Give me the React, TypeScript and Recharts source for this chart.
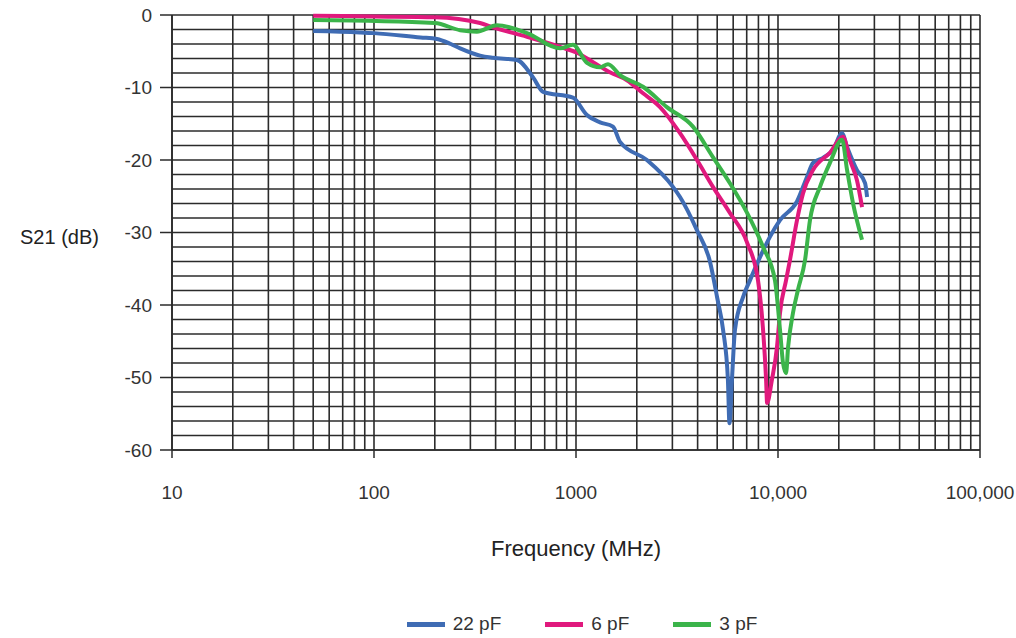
import { LineChart, Line, XAxis, YAxis, CartesianGrid, Legend } from 'recharts'

// log grid: every 1..9 x decade
const xTicks = [
  10, 20, 30, 40, 50, 60, 70, 80, 90,
  100, 200, 300, 400, 500, 600, 700, 800, 900,
  1000, 2000, 3000, 4000, 5000, 6000, 7000, 8000, 9000,
  10000, 20000, 30000, 40000, 50000, 60000, 70000, 80000, 90000,
  100000,
]
const xLabels = [10, 100, 1000, 10000, 100000]

const yTicks = [
  0, -2, -4, -6, -8, -10, -12, -14, -16, -18, -20, -22, -24, -26, -28, -30,
  -32, -34, -36, -38, -40, -42, -44, -46, -48, -50, -52, -54, -56, -58, -60,
]
const yLabels = [0, -10, -20, -30, -40, -50, -60]

// 22 pF
const freq22 = [50, 85, 100, 170, 205, 240, 267, 335, 388, 510, 613, 687, 966, 1133, 1315, 1524, 1652, 2244, 3020, 3273, 3972, 4603, 5000, 5346, 5649, 5750, 5916, 6124, 6714, 7262, 8147, 9120, 10230, 12420, 13930, 14900, 16710, 18710, 20750, 21980, 24600, 26980, 27610]
const s21_22 = [-2.2, -2.4, -2.5, -3.1, -3.3, -4.0, -4.6, -5.6, -5.9, -6.2, -8.6, -10.6, -11.4, -13.8, -14.8, -15.4, -17.5, -20.0, -23.7, -25.1, -29.7, -34.0, -39.0, -43.4, -50.3, -56.3, -50.3, -43.4, -38.9, -36.6, -33.4, -30.6, -28.3, -25.7, -22.3, -20.4, -19.7, -18.6, -16.3, -18.2, -21.4, -23.2, -25.1]

// 6 pF
const freq6 = [50, 100, 200, 335, 388, 572, 834, 1012, 1214, 1472, 1787, 2147, 2606, 3273, 3972, 4764, 5781, 7031, 7962, 8433, 8730, 8831, 9333, 9886, 10230, 10960, 11460, 12420, 13300, 14900, 18070, 20990, 22700, 24600, 26060]
const s21_6 = [-0.1, -0.2, -0.3, -1.1, -1.7, -3.0, -4.4, -5.2, -6.5, -7.9, -9.0, -10.8, -12.7, -16.3, -20.0, -23.7, -27.3, -31.4, -36.6, -43.4, -50.3, -53.5, -50.3, -45.8, -41.1, -36.6, -33.8, -28.3, -24.6, -21.4, -19.0, -16.8, -20.0, -22.8, -26.5]

// 3 pF
const freq3 = [50, 200, 267, 323, 406, 572, 834, 966, 1133, 1315, 1440, 1652, 2147, 2818, 3793, 4764, 5781, 7031, 8433, 9660, 10230, 10590, 10960, 11220, 11860, 12560, 13610, 14400, 16140, 18070, 20750, 21980, 23500, 26060]
const s21_3 = [-0.7, -1.1, -2.1, -2.3, -1.4, -2.5, -4.6, -4.1, -6.6, -7.2, -6.8, -8.3, -9.9, -12.7, -15.4, -19.6, -23.2, -27.3, -32.0, -36.6, -43.4, -48.0, -49.4, -45.8, -41.1, -37.9, -33.8, -28.3, -23.7, -20.4, -17.2, -21.4, -25.9, -31.0]

const zip = (f: number[], v: number[]) => f.map((x, i) => ({ f: x, db: v[i] }))

const series = [
  { name: '22 pF', color: '#3f6cb4', data: zip(freq22, s21_22) },
  { name: '6 pF', color: '#e0197d', data: zip(freq6, s21_6) },
  { name: '3 pF', color: '#3bb44a', data: zip(freq3, s21_3) },
]

const FONT = '"Liberation Sans", Arial, sans-serif'
const GRID = '#2b2b2b'
const Y_TICK_SIZE = 12
const Y_TICK_MARGIN = 8
const X_TICK_SIZE = 8
const X_TICK_MARGIN = 27

const fmtFreq = (v: number) => (v >= 10000 ? v.toLocaleString('en-US') : String(v))

function XTick(props: any) {
  const { x, y, payload } = props
  if (!xLabels.includes(payload.value)) return null
  return (
    <g>
      <line x1={x} x2={x} y1={y - X_TICK_MARGIN - X_TICK_SIZE} y2={y - X_TICK_MARGIN} stroke={GRID} strokeWidth={1.5} />
      <text x={x} y={y} dy="0.72em" textAnchor="middle" fontSize={19} fill="#333" fontFamily={FONT}>
        {fmtFreq(payload.value)}
      </text>
    </g>
  )
}

function YTick(props: any) {
  const { x, y, payload } = props
  if (!yLabels.includes(payload.value)) return null
  return (
    <g>
      <line x1={x + Y_TICK_MARGIN} x2={x + Y_TICK_MARGIN + Y_TICK_SIZE} y1={y} y2={y} stroke={GRID} strokeWidth={1.5} />
      <text x={x} y={y} dy="0.36em" textAnchor="end" fontSize={19} fill="#333" fontFamily={FONT}>
        {payload.value}
      </text>
    </g>
  )
}

function LegendContent() {
  return (
    <div style={{ display: 'flex', justifyContent: 'center', gap: 44, marginLeft: 148, fontFamily: FONT, fontSize: 19, color: '#333' }}>
      {series.map((s) => (
        <div key={s.name} style={{ display: 'flex', alignItems: 'center', gap: 8 }}>
          <span style={{ display: 'inline-block', width: 38, height: 5, background: s.color }} />
          <span>{s.name}</span>
        </div>
      ))}
    </div>
  )
}

export default function App() {
  return (
    <div style={{ position: 'absolute', left: 0, top: 0, background: '#fff' }}>
      <LineChart width={1016} height={638} margin={{ top: 15, right: 36, left: 0, bottom: 68 }}>
        <CartesianGrid stroke={GRID} strokeWidth={1.6} />
        <XAxis
          dataKey="f"
          type="number"
          scale="log"
          domain={[10, 100000]}
          ticks={xTicks}
          allowDataOverflow
          height={120}
          tick={<XTick />}
          tickLine={false}
          tickSize={X_TICK_SIZE}
          tickMargin={X_TICK_MARGIN}
          axisLine={{ stroke: GRID, strokeWidth: 1.6 }}
          interval={0}
          label={{ value: 'Frequency (MHz)', position: 'insideBottom', offset: 14, fontSize: 22, fill: '#222', fontFamily: FONT }}
        />
        <YAxis
          dataKey="db"
          type="number"
          domain={[-60, 0]}
          ticks={yTicks}
          width={172}
          tick={<YTick />}
          tickLine={false}
          tickSize={Y_TICK_SIZE}
          tickMargin={Y_TICK_MARGIN}
          axisLine={{ stroke: GRID, strokeWidth: 1.6 }}
          interval={0}
          label={{ value: 'S21 (dB)', position: 'insideLeft', offset: 20, dy: 4, fontSize: 20, fill: '#222', fontFamily: FONT }}
        />
        <Legend
          layout="horizontal"
          verticalAlign="middle"
          align="center"
          content={<LegendContent />}
          wrapperStyle={{ position: 'absolute', top: 613, left: 0, width: 1016 }}
        />
        {series.map((s) => (
          <Line
            key={s.name}
            data={s.data}
            dataKey="db"
            name={s.name}
            type="monotone"
            stroke={s.color}
            strokeWidth={4}
            dot={false}
            isAnimationActive={false}
          />
        ))}
      </LineChart>
    </div>
  )
}
